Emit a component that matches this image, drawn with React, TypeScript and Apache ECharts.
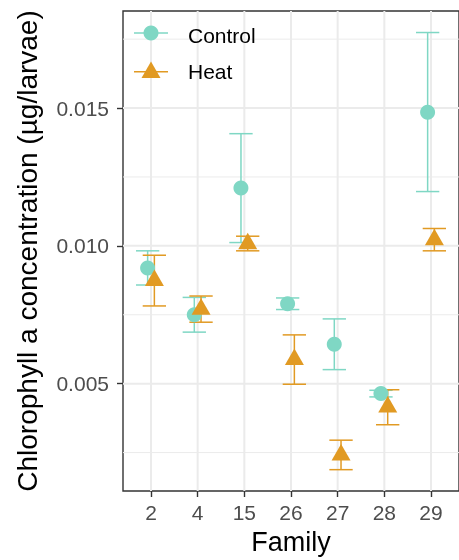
import React, { useEffect, useRef } from 'react';
import * as echarts from 'echarts';

const families = ['2', '4', '15', '26', '27', '28', '29'];
const controlMean = [0.0092, 0.0075, 0.0121, 0.0079, 0.00643, 0.00464, 0.01485];
const controlLow = [0.00858, 0.00687, 0.01012, 0.00769, 0.00551, 0.00452, 0.01197];
const controlHigh = [0.00982, 0.00813, 0.01407, 0.00811, 0.00735, 0.00476, 0.01774];
const heatMean = [0.00874, 0.0077, 0.01008, 0.00588, 0.00241, 0.00415, 0.01022];
const heatLow = [0.00782, 0.00723, 0.00982, 0.00498, 0.00188, 0.00351, 0.00982];
const heatHigh = [0.00966, 0.00818, 0.01035, 0.00677, 0.00295, 0.00478, 0.01063];
const yMajorTicks = [0.005, 0.01, 0.015];
const yMinorTicks = [0.0025, 0.0075, 0.0125, 0.0175];

const TEAL = '#7FD7C4';
const ORANGE = '#E19A23';
const FONT = '"Liberation Sans", Arial, Helvetica, sans-serif';
const Y_MIN = 0.001106;
const Y_MAX = 0.018521;

export default function App() {
  const ref = useRef<HTMLDivElement>(null);
  useEffect(() => {
    document.body.style.margin = '0';
    const chart = echarts.init(ref.current!, null, { renderer: 'svg' });
    const xs = families.map((_, i) => i + 1);

    const errRender = (dir: number, color: string) => (params: any, api: any) => {
      const x = api.value(0);
      const lo = api.value(1);
      const hi = api.value(2);
      const pLo = api.coord([x, lo]);
      const pHi = api.coord([x, hi]);
      const band = api.size([1, 0])[0];
      const cx = pLo[0] + dir * band * 0.072;
      const half = band * 0.25;
      const style = { stroke: color, lineWidth: 1.5 };
      return {
        type: 'group',
        children: [
          { type: 'line', shape: { x1: cx, y1: pLo[1], x2: cx, y2: pHi[1] }, style },
          { type: 'line', shape: { x1: cx - half, y1: pLo[1], x2: cx + half, y2: pLo[1] }, style },
          { type: 'line', shape: { x1: cx - half, y1: pHi[1], x2: cx + half, y2: pHi[1] }, style },
        ],
      };
    };

    const gridColor = '#EBEBEB';
    // kind: 0 = minor horizontal, 1 = major horizontal, 2 = major vertical
    const gridData: number[][] = [
      ...yMinorTicks.map((v) => [0, v]),
      ...yMajorTicks.map((v) => [1, v]),
      ...xs.map((v) => [2, v]),
    ];
    const gridRender = (params: any, api: any) => {
      const kind = api.value(0);
      const v = api.value(1);
      const cs = params.coordSys;
      if (kind === 2) {
        const px = api.coord([v, Y_MIN])[0];
        return {
          type: 'line',
          shape: { x1: px, y1: cs.y, x2: px, y2: cs.y + cs.height },
          style: { stroke: gridColor, lineWidth: 2 },
        };
      }
      const py = api.coord([1, v])[1];
      return {
        type: 'line',
        shape: { x1: cs.x, y1: py, x2: cs.x + cs.width, y2: py },
        style: { stroke: gridColor, lineWidth: kind === 1 ? 2 : 1 },
      };
    };

    chart.setOption({
      animation: false,
      textStyle: { fontFamily: FONT },
      grid: {
        left: 123,
        top: 11,
        width: 341,
        height: 481.7,
        show: true,
        borderColor: '#333333',
        borderWidth: 1.4,
        backgroundColor: 'transparent',
      },
      xAxis: {
        type: 'value',
        min: 0.4,
        max: 7.6,
        axisLine: { show: false, onZero: false },
        axisTick: { show: true, length: 6, customValues: xs, lineStyle: { color: '#333333', width: 1.4 } },
        axisLabel: {
          customValues: xs,
          formatter: (v: number) => families[Math.round(v) - 1] ?? '',
          fontSize: 21,
          color: '#4D4D4D',
          margin: 11,
          fontFamily: FONT,
        },
        splitLine: { show: false },
        name: 'Family',
        nameLocation: 'middle',
        nameGap: 37,
        nameTextStyle: { fontSize: 27, color: '#000000', fontFamily: FONT },
      },
      yAxis: {
        type: 'value',
        min: Y_MIN,
        max: Y_MAX,
        axisLine: { show: false, onZero: false },
        axisTick: { show: true, length: 6, customValues: yMajorTicks, lineStyle: { color: '#333333', width: 1.4 } },
        axisLabel: {
          customValues: yMajorTicks,
          formatter: (v: number) => v.toFixed(3),
          fontSize: 21,
          color: '#4D4D4D',
          margin: 14,
          fontFamily: FONT,
        },
        splitLine: { show: false },
        name: 'Chlorophyll a concentration (µg/larvae)',
        nameLocation: 'middle',
        nameGap: 82,
        nameTextStyle: { fontSize: 28, color: '#000000', fontFamily: FONT },
      },
      series: [
        {
          type: 'custom',
          z: 1,
          silent: true,
          clip: false,
          renderItem: gridRender,
          encode: { x: -1, y: -1 },
          data: gridData,
        },
        {
          type: 'custom',
          name: 'Control',
          z: 3,
          renderItem: errRender(-1, TEAL),
          data: xs.map((x, i) => [x, controlLow[i], controlHigh[i]]),
        },
        {
          type: 'custom',
          name: 'Heat',
          z: 3,
          renderItem: errRender(1, ORANGE),
          data: xs.map((x, i) => [x, heatLow[i], heatHigh[i]]),
        },
        {
          type: 'scatter',
          name: 'Control',
          z: 4,
          symbol: 'circle',
          symbolSize: 15,
          symbolOffset: [-3.4, 0],
          itemStyle: { color: TEAL, opacity: 1 },
          data: xs.map((x, i) => [x, controlMean[i]]),
        },
        {
          type: 'scatter',
          name: 'Heat',
          z: 5,
          symbol: 'triangle',
          symbolSize: [19, 16.5],
          symbolOffset: [3.4, -2.75],
          itemStyle: { color: ORANGE, opacity: 1 },
          data: xs.map((x, i) => [x, heatMean[i]]),
        },
      ],
      graphic: [
        { type: 'line', shape: { x1: 134, y1: 33, x2: 168, y2: 33 }, style: { stroke: TEAL, lineWidth: 1.5 }, z: 10 },
        { type: 'circle', shape: { cx: 151, cy: 33, r: 7.5 }, style: { fill: TEAL }, z: 10 },
        { type: 'text', x: 188, y: 35, style: { text: 'Control', fontSize: 21, fontFamily: FONT, fill: '#000000', verticalAlign: 'middle' }, z: 10 },
        { type: 'line', shape: { x1: 134, y1: 71.7, x2: 168, y2: 71.7 }, style: { stroke: ORANGE, lineWidth: 1.5 }, z: 10 },
        { type: 'polygon', shape: { points: [[151, 61.5], [160.5, 78], [141.5, 78]] }, style: { fill: ORANGE }, z: 10 },
        { type: 'text', x: 188, y: 71.5, style: { text: 'Heat', fontSize: 21, fontFamily: FONT, fill: '#000000', verticalAlign: 'middle' }, z: 10 },
      ],
    });
    return () => chart.dispose();
  }, []);
  return <div ref={ref} style={{ position: 'fixed', left: 0, top: 0, width: 459, height: 560 }} />;
}
